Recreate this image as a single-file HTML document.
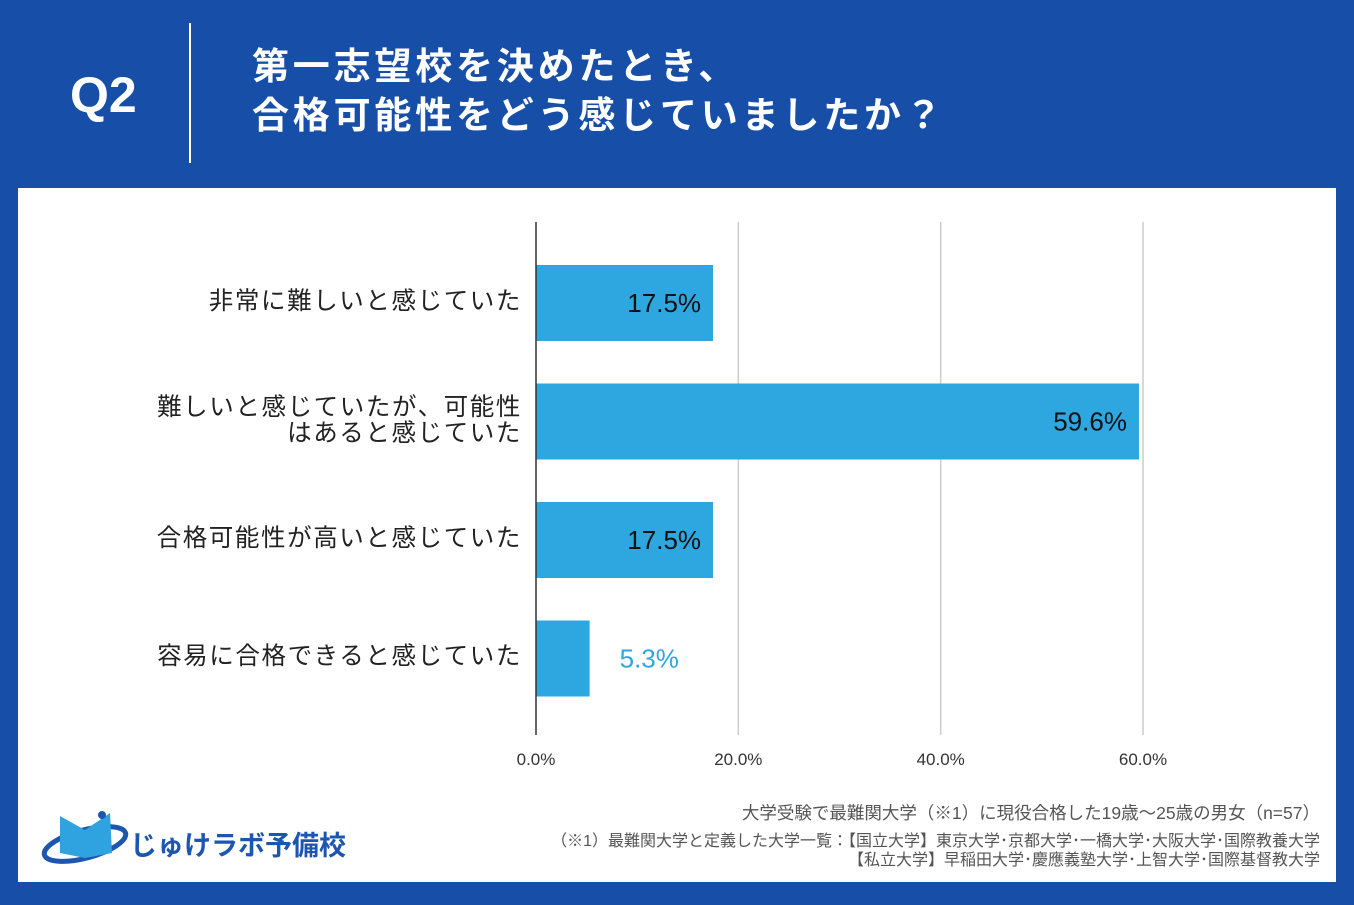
<!DOCTYPE html>
<html><head><meta charset="utf-8"><style>
body{margin:0;width:1354px;height:905px;background:#174fa8;position:relative;overflow:hidden;font-family:"Liberation Sans","Noto Sans CJK JP",sans-serif}
.abs{position:absolute}
#q2{left:70px;top:66px;font-size:50px;font-weight:bold;color:#fff}
#vline{left:189px;top:23px;width:2px;height:140px;background:#fff}
#title{left:252px;top:42px;font-size:37px;font-weight:bold;color:#fff;line-height:49px;letter-spacing:3.8px;white-space:nowrap}
#panel{left:18px;top:188px;width:1318px;height:694px;background:#fff}
.cat{font-size:24.5px;color:#222;text-align:right;right:832px;line-height:26px;letter-spacing:1.6px;white-space:nowrap}
.foot{right:34px;font-size:16px;color:#555;text-align:right;white-space:nowrap}
</style></head><body>
<div class="abs" id="q2">Q2</div>
<div class="abs" id="vline"></div>
<div class="abs" id="title">第一志望校を決めたとき、<br>合格可能性をどう感じていましたか？</div>
<div class="abs" id="panel"></div>
<svg class="abs" style="left:0;top:0" width="1354" height="905" id="chart"></svg>
<div class="abs cat" style="top:289px">非常に難しいと感じていた</div>
<div class="abs cat" style="top:395px">難しいと感じていたが、可能性<br>はあると感じていた</div>
<div class="abs cat" style="top:526px">合格可能性が高いと感じていた</div>
<div class="abs cat" style="top:644px">容易に合格できると感じていた</div>
<div class="abs" style="left:40px;top:808px;width:90px;height:58px">
<svg width="90" height="58"><ellipse cx="45" cy="36" rx="42" ry="14" fill="none" stroke="#1c56b0" stroke-width="5" transform="rotate(-15 45 36)"/><polygon points="20,8 45,22 70,5 72,45 45,50 20,45" fill="#2ea3e0"/><circle cx="62" cy="7" r="4" fill="#1c56b0"/></svg></div>
<div class="abs" style="left:130px;top:824px;font-size:27px;font-weight:bold;color:#1c56b0">じゅけラボ予備校</div>
<div class="abs foot" style="top:800px;font-size:17.5px">大学受験で最難関大学（※1）に現役合格した19歳～25歳の男女（n=57）</div>
<div class="abs foot" style="top:827px">（※1）最難関大学と定義した大学一覧：【国立大学】東京大学･京都大学･一橋大学･大阪大学･国際教養大学</div>
<div class="abs foot" style="top:846px">【私立大学】早稲田大学･慶應義塾大学･上智大学･国際基督教大学</div>
<script>
const categories=["非常に難しいと感じていた","難しいと感じていたが、可能性はあると感じていた","合格可能性が高いと感じていた","容易に合格できると感じていた"];
const values=[17.5,59.6,17.5,5.3];
const ticks=[0,20,40,60];
const svg=document.getElementById('chart');const NS='http://www.w3.org/2000/svg';
const x0=536,pxPer=(1143-536)/60;const xs=v=>x0+v*pxPer;
const ys=i=>303+i*118.5;
function mk(t,a){const e=document.createElementNS(NS,t);for(const k in a)e.setAttribute(k,a[k]);svg.appendChild(e);return e;}
ticks.forEach(t=>{if(t>0){const l=mk('line',{x1:xs(t),x2:xs(t),y1:222,y2:735,stroke:'#ccc','stroke-width':1.5});

}
const tx=mk('text',{x:xs(t),y:765,'text-anchor':'middle','font-size':17,fill:'#333','font-family':'Liberation Sans, sans-serif'});tx.textContent=t.toFixed(1)+'%';

});
values.forEach((v,i)=>{const y=ys(i);const r=mk('rect',{x:x0,y:y-38,width:xs(v)-x0,height:76,fill:'#2ea7e0'});


const inside=(xs(v)-x0)>120;
const t=mk('text',{x:inside?xs(v)-12:xs(v)+30,y:y+9,'text-anchor':inside?'end':'start','font-size':26,fill:inside?'#111':'#2ea7e0','font-family':'Liberation Sans, sans-serif'});t.textContent=v.toFixed(1)+'%';

});
const ax=mk('line',{x1:x0,x2:x0,y1:222,y2:735,stroke:'#333','stroke-width':1.5});


</script>
</body></html>
